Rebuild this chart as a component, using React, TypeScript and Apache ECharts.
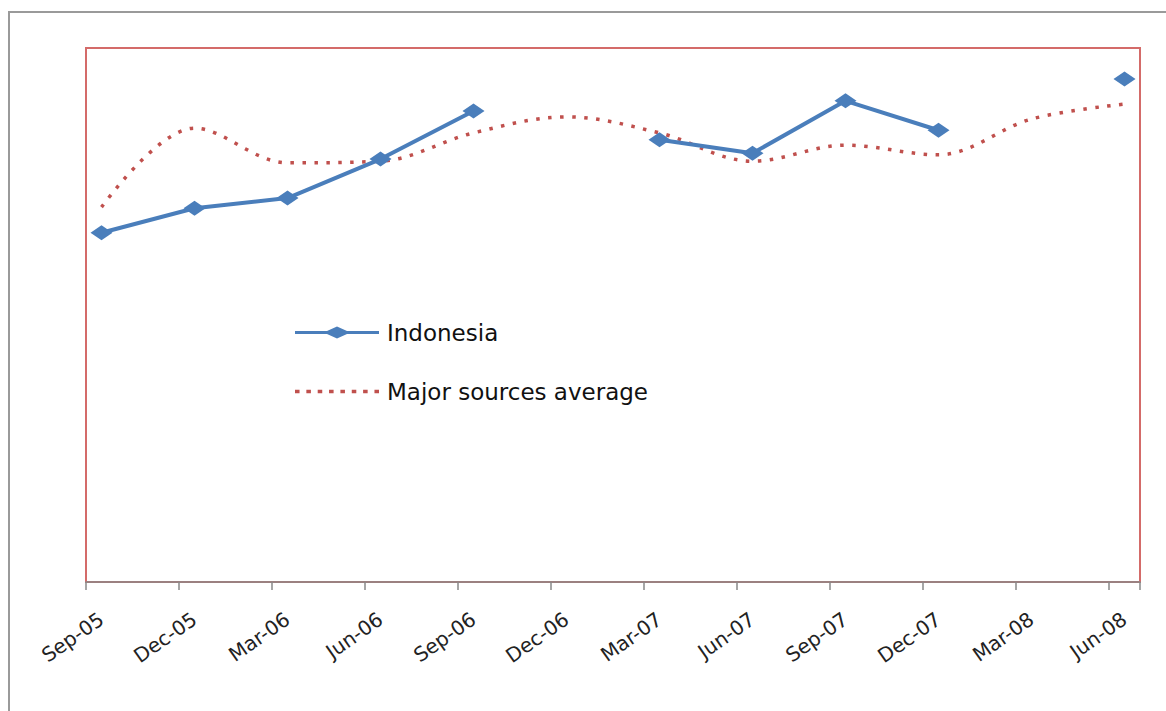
import React, { useEffect, useRef } from "react";
import * as echarts from "echarts";

const months = [
  "Sep-05", "Oct-05", "Nov-05", "Dec-05", "Jan-06", "Feb-06", "Mar-06", "Apr-06", "May-06",
  "Jun-06", "Jul-06", "Aug-06", "Sep-06", "Oct-06", "Nov-06", "Dec-06", "Jan-07", "Feb-07",
  "Mar-07", "Apr-07", "May-07", "Jun-07", "Jul-07", "Aug-07", "Sep-07", "Oct-07", "Nov-07",
  "Dec-07", "Jan-08", "Feb-08", "Mar-08", "Apr-08", "May-08", "Jun-08",
];

const quarters = [
  "Sep-05", "Dec-05", "Mar-06", "Jun-06", "Sep-06", "Dec-06",
  "Mar-07", "Jun-07", "Sep-07", "Dec-07", "Mar-08", "Jun-08",
];

const indonesia: (number | null)[] = [65.4, 70.0, 71.9, 79.2, 88.2, null, 82.8, 80.3, 90.1, 84.6, null, 94.2];
const majorAverage: number[] = [70.2, 85.0, 78.5, 78.8, 84.1, 87.1, 84.1, 78.8, 81.8, 80.0, 86.7, 89.5];

const BLUE = "#4A7EBB";
const RED = "#C0504D";

const INDONESIA_ICON =
  "path://M0,4.5 L32,4.5 L42,0 L52,4.5 L84,4.5 L84,7.5 L52,7.5 L42,12 L32,7.5 L0,7.5 Z";
const DOTS_ICON =
  "path://M0,0 L4,0 L4,3 L0,3 Z M10,0 L14,0 L14,3 L10,3 Z M20,0 L24,0 L24,3 L20,3 Z M30,0 L34,0 L34,3 L30,3 Z M40,0 L44,0 L44,3 L40,3 Z M50,0 L54,0 L54,3 L50,3 Z M60,0 L64,0 L64,3 L60,3 Z M70,0 L74,0 L74,3 L70,3 Z";

export default function App() {
  const ref = useRef<HTMLDivElement>(null);

  useEffect(() => {
    if (!ref.current) return;
    const chart = echarts.init(ref.current, null, { renderer: "svg" });
    chart.setOption({
      animation: false,
      backgroundColor: "#ffffff",
      graphic: [
        {
          type: "rect",
          shape: { x: 9, y: 12, width: 1300, height: 900 },
          style: { fill: "none", stroke: "#9a9a9a", lineWidth: 2 },
          silent: true,
        },
      ],
      grid: {
        left: 86,
        right: 26,
        top: 48,
        bottom: 129,
        show: true,
        borderColor: "#D46B69",
        borderWidth: 2,
        backgroundColor: "transparent",
      },
      legend: {
        orient: "vertical",
        left: 295,
        top: 321,
        padding: 0,
        itemWidth: 84,
        itemHeight: 12,
        itemGap: 36,
        data: [
          { name: "Indonesia", icon: INDONESIA_ICON },
          { name: "Major sources average", icon: DOTS_ICON },
        ],
        textStyle: {
          fontFamily: "DejaVu Sans",
          fontSize: 23,
          color: "#111",
          padding: [0, 0, 0, 3],
        },
      },
      xAxis: {
        type: "category",
        data: months,
        boundaryGap: true,
        z: 5,
        axisLine: { show: true, lineStyle: { color: "#888888", width: 1.5 } },
        axisTick: {
          show: true,
          interval: 2,
          length: 8,
          lineStyle: { color: "#888888", width: 1.5 },
        },
        axisLabel: {
          show: true,
          interval: 2,
          rotate: 35,
          margin: 35,
          fontFamily: "DejaVu Sans",
          fontSize: 20,
          color: "#222",
        },
        splitLine: { show: false },
      },
      yAxis: {
        type: "value",
        min: 0,
        max: 100,
        show: false,
        splitLine: { show: false },
      },
      series: [
        {
          name: "Indonesia",
          type: "line",
          data: quarters.map((q, i) => [q, indonesia[i]]),
          connectNulls: false,
          symbol: "diamond",
          symbolSize: [22, 15],
          itemStyle: { color: BLUE },
          lineStyle: { color: BLUE, width: 4 },
          z: 3,
        },
        {
          name: "Major sources average",
          type: "line",
          data: quarters.map((q, i) => [q, majorAverage[i]]),
          smooth: 0.35,
          symbol: "none",
          itemStyle: { color: RED },
          lineStyle: { color: RED, width: 3.5, type: [3.5, 8.5] },
          z: 2,
        },
      ],
    });
    return () => chart.dispose();
  }, []);

  return (
    <div
      ref={ref}
      style={{ position: "fixed", left: 0, top: 0, width: 1166, height: 711 }}
    />
  );
}
